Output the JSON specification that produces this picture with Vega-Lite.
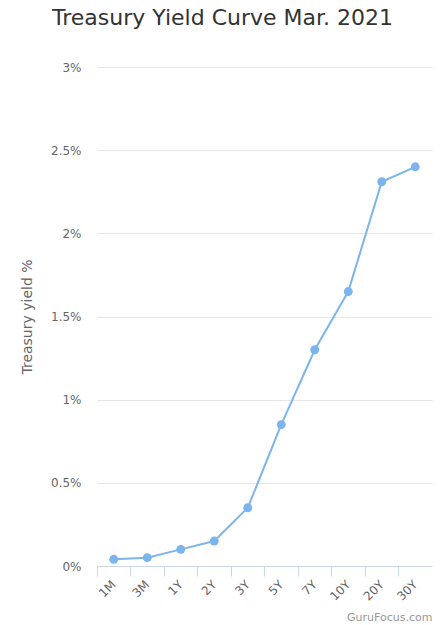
{
  "$schema": "https://vega.github.io/schema/vega-lite/v6.json",
  "autosize": "none",
  "width": 335,
  "height": 499,
  "padding": {"left": 97, "top": 67, "right": 13, "bottom": 59},
  "background": "white",
  "title": {
    "text": "Treasury Yield Curve Mar. 2021",
    "font": "DejaVu Sans",
    "fontSize": 22,
    "fontWeight": "normal",
    "color": "#333333",
    "anchor": "middle",
    "dx": -42,
    "offset": 31
  },
  "data": {
    "values": [
      {"term": "1M", "yield": 0.04},
      {"term": "3M", "yield": 0.05},
      {"term": "1Y", "yield": 0.10},
      {"term": "2Y", "yield": 0.15},
      {"term": "3Y", "yield": 0.35},
      {"term": "5Y", "yield": 0.85},
      {"term": "7Y", "yield": 1.30},
      {"term": "10Y", "yield": 1.65},
      {"term": "20Y", "yield": 2.31},
      {"term": "30Y", "yield": 2.40}
    ]
  },
  "config": {
    "view": {"stroke": null},
    "font": "DejaVu Sans"
  },
  "encoding": {
    "x": {
      "field": "term",
      "type": "ordinal",
      "sort": null,
      "scale": {"type": "band", "paddingInner": 0, "paddingOuter": 0},
      "axis": {
        "title": "GuruFocus.com",
        "titleAnchor": "end",
        "titleAlign": "right",
        "titleFontSize": 11,
        "titleFontWeight": "normal",
        "titleColor": "#999999",
        "titlePadding": 9,
        "labelAngle": -45,
        "labelAlign": "right",
        "labelBaseline": "middle",
        "labelColor": "#666666",
        "labelFontSize": 12,
        "labelPadding": 6,
        "bandPosition": 0,
        "tickExtra": true,
        "domainColor": "#ccd6eb",
        "tickColor": "#ccd6eb",
        "tickSize": 10,
        "grid": false
      }
    },
    "y": {
      "field": "yield",
      "type": "quantitative",
      "scale": {"domain": [0, 3], "nice": false},
      "axis": {
        "title": "Treasury yield %",
        "titleFontSize": 14,
        "titleFontWeight": "normal",
        "titleColor": "#666666",
        "titlePadding": 16,
        "values": [0, 0.5, 1, 1.5, 2, 2.5, 3],
        "labelExpr": "datum.value + '%'",
        "labelColor": "#666666",
        "labelFontSize": 12,
        "labelPadding": 16,
        "tickSize": 0,
        "domain": false,
        "gridColor": "#e6e6e6"
      }
    }
  },
  "layer": [
    {"mark": {"type": "line", "color": "#7cb5ec", "strokeWidth": 2}},
    {"mark": {"type": "circle", "color": "#7cb5ec", "opacity": 1, "size": 80}}
  ]
}
